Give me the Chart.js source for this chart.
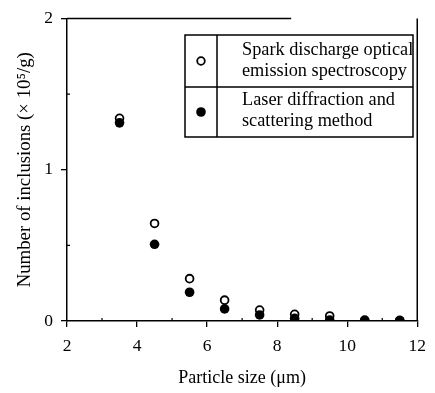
<!DOCTYPE html>
<html>
<head>
<meta charset="utf-8">
<script src="https://cdn.jsdelivr.net/npm/chart.js@4/dist/chart.umd.min.js"></script>
<style>
  html, body { margin: 0; padding: 0; background: #fff; }
  #c { display: block; }
</style>
</head>
<body>
<canvas id="c" width="435" height="393"></canvas>
<script>
// ---- data ----
const particleSizes = [3.5, 4.5, 5.5, 6.5, 7.5, 8.5, 9.5, 10.5, 11.5];
const sparkValues   = [1.34, 0.645, 0.28, 0.138, 0.072, 0.044, 0.033, 0.006, 0.004];
const laserValues   = [1.31, 0.507, 0.19, 0.08, 0.04, 0.018, 0.006, 0.003, 0.002];
const seriesNames   = [["Spark discharge optical", "emission spectroscopy"],
                       ["Laser diffraction and", "scattering method"]];
const xTickValues   = [2, 4, 6, 8, 10, 12];
const yTickValues   = [0, 1, 2];
const xTitle = "Particle size (\u03bcm)";
const yTitle = "Number of inclusions (\u00d7 10\u2075/g)";

const SERIF = "'Liberation Serif', 'Times New Roman', serif";

const toPoints = (xs, ys) => xs.map((x, i) => ({ x: x, y: ys[i] }));

const frameAndLegend = {
  id: 'frameAndLegend',
  afterDraw(chart) {
    const ctx = chart.ctx;
    const a = chart.chartArea;
    const xs = chart.scales.x, ys = chart.scales.y;
    ctx.save();
    ctx.strokeStyle = '#000';
    ctx.lineWidth = 1.5;
    // right border & (partly faded) top border
    ctx.beginPath();
    ctx.moveTo(a.right, a.top);
    ctx.lineTo(a.right, a.bottom);
    ctx.moveTo(a.left, a.top);
    ctx.lineTo(a.left + (a.right - a.left) * 0.64, a.top);
    ctx.stroke();

    // minor ticks pointing inward
    ctx.lineWidth = 1.2;
    ctx.beginPath();
    for (let v = 3; v < 12; v += 2) {
      const px = xs.getPixelForValue(v);
      ctx.moveTo(px, a.bottom); ctx.lineTo(px, a.bottom - 3);
    }
    for (const v of [0.5, 1.5]) {
      const py = ys.getPixelForValue(v);
      ctx.moveTo(a.left, py); ctx.lineTo(a.left + 3, py);
    }
    ctx.stroke();

    // legend table
    const L = 185, T = 35, R = 413, B = 137, mid = 87, vx = 217;
    ctx.lineWidth = 1.5;
    ctx.fillStyle = '#fff';
    ctx.fillRect(L, T, R - L, B - T);
    ctx.beginPath();
    ctx.rect(L, T, R - L, B - T);
    ctx.moveTo(L, mid); ctx.lineTo(R, mid);
    ctx.moveTo(vx, T); ctx.lineTo(vx, B);
    ctx.stroke();

    // markers
    const mx = (L + vx) / 2;
    ctx.lineWidth = 1.8;
    ctx.beginPath();
    ctx.arc(mx, (T + mid) / 2, 3.8, 0, Math.PI * 2);
    ctx.fillStyle = '#fff'; ctx.fill(); ctx.stroke();
    ctx.beginPath();
    ctx.arc(mx, (mid + B) / 2, 4.8, 0, Math.PI * 2);
    ctx.fillStyle = '#000'; ctx.fill();

    // text (clipped to the box)
    ctx.save();
    ctx.beginPath();
    ctx.rect(vx + 1, T + 1, R - vx - 2, B - T - 2);
    ctx.clip();
    ctx.fillStyle = '#000';
    ctx.font = "18.3px " + SERIF;
    ctx.textBaseline = 'middle';
    ctx.textAlign = 'left';
    const tx = 242;
    ctx.fillText(seriesNames[0][0], tx, T + 15);
    ctx.fillText(seriesNames[0][1], tx, T + 36);
    ctx.fillText(seriesNames[1][0], tx, mid + 13);
    ctx.fillText(seriesNames[1][1], tx, mid + 34);
    ctx.restore();
    ctx.restore();
  }
};

const majorOnly = (list) => (ctx) => list.includes(ctx.tick && ctx.tick.value) ? '#000' : 'rgba(0,0,0,0)';

new Chart(document.getElementById('c'), {
  type: 'scatter',
  data: {
    datasets: [
      {
        label: seriesNames[0].join(' '),
        data: toPoints(particleSizes, sparkValues),
        pointStyle: 'circle',
        pointRadius: 3.9,
        pointBorderWidth: 1.8,
        pointBorderColor: '#000',
        pointBackgroundColor: '#fff',
        order: 2
      },
      {
        label: seriesNames[1].join(' '),
        data: toPoints(particleSizes, laserValues),
        pointStyle: 'circle',
        pointRadius: 4.8,
        pointBorderWidth: 0,
        pointBorderColor: '#000',
        pointBackgroundColor: '#000',
        order: 1
      }
    ]
  },
  options: {
    responsive: false,
    animation: false,
    devicePixelRatio: 1,
    layout: { padding: { top: 16, right: 17, left: 0, bottom: 0 } },
    plugins: {
      legend: { display: false },
      tooltip: { enabled: false }
    },
    scales: {
      x: {
        type: 'linear',
        min: 2, max: 12,
        afterFit(scale) { scale.height = 72; },
        ticks: {
          stepSize: 1,
          autoSkip: false,
          maxRotation: 0,
          color: '#000',
          font: { family: SERIF, size: 17.5 },
          padding: 9,
          callback: (v) => xTickValues.includes(v) ? String(v) : ''
        },
        grid: { drawOnChartArea: false, drawTicks: true, tickLength: 6, color: majorOnly(xTickValues), lineWidth: 1.3 },
        border: { display: true, color: '#000', width: 1.5 },
        title: {
          display: true,
          text: xTitle,
          color: '#000',
          font: { family: SERIF, size: 18 },
          padding: { top: 0, bottom: 4 }
        }
      },
      y: {
        min: 0, max: 2,
        afterFit(scale) { scale.width = 67; },
        ticks: {
          stepSize: 0.5,
          autoSkip: false,
          color: '#000',
          font: { family: SERIF, size: 17.5 },
          padding: 8,
          callback: (v) => yTickValues.includes(v) ? String(v) : ''
        },
        grid: { drawOnChartArea: false, drawTicks: true, tickLength: 6, color: majorOnly(yTickValues), lineWidth: 1.3 },
        border: { display: true, color: '#000', width: 1.5 },
        title: {
          display: true,
          text: yTitle,
          color: '#000',
          font: { family: SERIF, size: 18.8 },
          padding: { top: 13.5, bottom: 0 }
        }
      }
    }
  },
  plugins: [frameAndLegend]
});
</script>
</body>
</html>
